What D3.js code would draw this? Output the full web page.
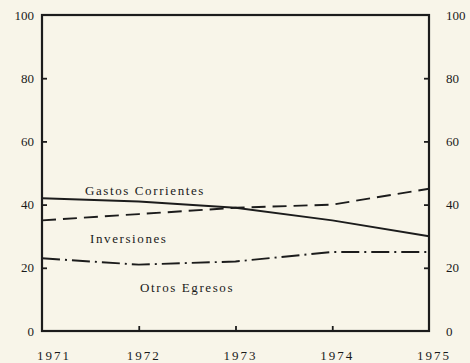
<!DOCTYPE html>
<html>
<head>
<meta charset="utf-8">
<script src="https://cdn.jsdelivr.net/npm/d3@7"></script>
<style>
  html, body { margin: 0; padding: 0; background: #f8f5e9; }
  svg { display: block; }
  text { font-family: "Liberation Serif", "DejaVu Serif", serif; fill: #1a1a1a; }
</style>
</head>
<body>
<script>
// Años y participación porcentual de cada rubro del gasto
const years = [1971, 1972, 1973, 1974, 1975];
const gastosCorrientes = [42, 41, 39, 35, 30];
const inversiones = [35, 37, 39, 40, 45];
const otrosEgresos = [23, 21, 22, 25, 25];
const yTicks = [0, 20, 40, 60, 80, 100];
const yearLabels = ["1971", "1972", "1973", "1974", "1975"];

const width = 470, height = 363;
const plotLeft = 42, plotRight = 429, plotTop = 15, plotBottom = 331;

const svg = d3.select("body").append("svg")
  .attr("width", width).attr("height", height);

svg.append("rect").attr("width", width).attr("height", height).attr("fill", "#f8f5e9");

const x = d3.scalePoint().domain(years).range([plotLeft, plotRight]);
const y = d3.scaleLinear().domain([0, 100]).range([plotBottom, plotTop]);

const ink = "#1c1c1c";

// Marco del gráfico
svg.append("rect")
  .attr("x", x(years[0])).attr("y", y(100))
  .attr("width", x(years[4]) - x(years[0]))
  .attr("height", y(0) - y(100))
  .attr("fill", "none").attr("stroke", ink).attr("stroke-width", 2.2);

// Ejes con marcas hacia el interior
const leftAxis = d3.axisRight(y).tickValues(yTicks.slice(1, -1)).tickSize(5).tickFormat("");
const rightAxis = d3.axisLeft(y).tickValues(yTicks.slice(1, -1)).tickSize(5).tickFormat("");
const bottomAxis = d3.axisTop(x).tickValues(years.slice(1, -1)).tickSize(5).tickFormat("");

[[leftAxis, `translate(${plotLeft},0)`], [rightAxis, `translate(${plotRight},0)`], [bottomAxis, `translate(0,${plotBottom})`]]
  .forEach(([ax, tr]) => {
    const g = svg.append("g").attr("transform", tr).call(ax);
    g.select(".domain").remove();
    g.selectAll("line").attr("stroke", ink).attr("stroke-width", 1.8);
  });

// Rótulos del eje vertical (ambos lados)
svg.append("g").selectAll("text").data(yTicks).join("text")
  .attr("x", 34).attr("y", d => y(d)).attr("dy", "0.35em")
  .attr("text-anchor", "end").attr("font-size", 13)
  .text(d => d);

svg.append("g").selectAll("text").data(yTicks).join("text")
  .attr("x", 446).attr("y", d => y(d)).attr("dy", "0.35em")
  .attr("text-anchor", "start").attr("font-size", 13)
  .text(d => d);

// Rótulos de los años
svg.append("g").selectAll("text").data(years).join("text")
  .attr("x", (d, i) => x(d) + (i === 0 ? 12 : 5))
  .attr("y", 360)
  .attr("text-anchor", "middle").attr("font-size", 13)
  .attr("letter-spacing", 2)
  .text((d, i) => yearLabels[i]);

// Series
const line = d3.line().x((d, i) => x(years[i])).y(d => y(d));

const series = [
  { values: gastosCorrientes, dash: null, label: "Gastos Corrientes", lx: 85, ly: 195 },
  { values: inversiones, dash: "14,7", label: "Inversiones", lx: 90, ly: 243 },
  { values: otrosEgresos, dash: "18,5,2,5", label: "Otros Egresos", lx: 140, ly: 292 }
];

series.forEach(s => {
  svg.append("path")
    .datum(s.values)
    .attr("d", line)
    .attr("fill", "none")
    .attr("stroke", ink)
    .attr("stroke-width", 1.9)
    .attr("stroke-linejoin", "round")
    .attr("stroke-dasharray", s.dash);
  svg.append("text")
    .attr("x", s.lx).attr("y", s.ly)
    .attr("font-size", 13)
    .attr("letter-spacing", 1.6)
    .text(s.label);
});
</script>
</body>
</html>
